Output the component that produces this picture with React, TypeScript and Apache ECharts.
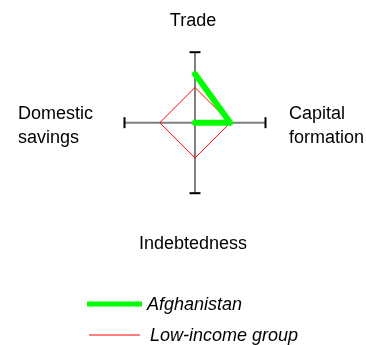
import React, { useEffect, useRef } from "react";
import * as echarts from "echarts";

const categories = ["Trade", "Capital formation", "Indebtedness", "Domestic savings"];
const afghanistan: (number | null)[] = [0.69, 0.5, 0, null];
const lowIncome = [0.5, 0.5, 0.5, 0.5];
const axisMax = 1;

const FONT = "Liberation Sans, Arial, sans-serif";

export default function App() {
  const ref = useRef<HTMLDivElement>(null);
  useEffect(() => {
    if (!ref.current) return;
    const chart = echarts.init(ref.current, undefined, { renderer: "svg" });
    const step = 360 / categories.length;
    const afgData: [number, number][] = [];
    afghanistan.forEach((v, i) => {
      if (v !== null) afgData.push([v, i * step]);
    });
    const lowData: [number, number][] = lowIncome.map((v, i) => [v, i * step]);
    lowData.push([lowIncome[0], 360]);
    const capData = categories.map((_, i) => [axisMax, i * step]);

    const legendText = { fontFamily: FONT, fontSize: 18, fontStyle: "italic", color: "#000" };

    chart.setOption({
      animation: false,
      polar: { center: [195, 122.7], radius: 70.5 },
      angleAxis: {
        type: "value",
        min: 0,
        max: 360,
        interval: 90,
        startAngle: 90,
        clockwise: true,
        axisLine: { show: false },
        axisTick: { show: false },
        axisLabel: { show: false },
        splitLine: { show: true, lineStyle: { color: "#808080", width: 2 } },
      },
      radiusAxis: {
        type: "value",
        min: 0,
        max: axisMax,
        axisLine: { show: false },
        axisTick: { show: false },
        axisLabel: { show: false },
        splitLine: { show: false },
      },
      legend: [
        {
          left: 87,
          top: 295,
          padding: 0,
          itemWidth: 55,
          itemHeight: 5,
          icon: "rect",
          data: ["Afghanistan"],
          textStyle: legendText,
        },
        {
          left: 89,
          top: 326,
          padding: 0,
          itemWidth: 51,
          itemHeight: 1,
          icon: "rect",
          data: ["Low-income group"],
          formatter: (name: string) => " " + name,
          textStyle: legendText,
        },
      ],
      graphic: [
        { type: "text", x: 193, y: 20, style: { text: "Trade", font: `18px ${FONT}`, fill: "#000", align: "center", verticalAlign: "middle" } },
        { type: "text", x: 193, y: 243, style: { text: "Indebtedness", font: `18px ${FONT}`, fill: "#000", align: "center", verticalAlign: "middle" } },
        { type: "text", x: 18, y: 125, style: { text: "Domestic\nsavings", font: `18px ${FONT}`, lineHeight: 24, fill: "#000", align: "left", verticalAlign: "middle" } },
        { type: "text", x: 289, y: 125, style: { text: "Capital\nformation", font: `18px ${FONT}`, lineHeight: 24, fill: "#000", align: "left", verticalAlign: "middle" } },
      ],
      series: [
        {
          type: "custom",
          coordinateSystem: "polar",
          silent: true,
          data: capData,
          renderItem: (params: any, api: any) => {
            const r = api.value(0);
            const a = api.value(1);
            const p = api.coord([r, a]);
            const rad = (a * Math.PI) / 180;
            const px = Math.cos(rad) * 5.5;
            const py = Math.sin(rad) * 5.5;
            return {
              type: "line",
              shape: { x1: p[0] - px, y1: p[1] - py, x2: p[0] + px, y2: p[1] + py },
              style: { stroke: "#000", lineWidth: 2 },
            };
          },
        },
        {
          name: "Low-income group",
          type: "line",
          coordinateSystem: "polar",
          data: lowData,
          symbol: "none",
          lineStyle: { color: "#ff0000", width: 1 },
          itemStyle: { color: "#ff0000" },
          z: 3,
        },
        {
          name: "Afghanistan",
          type: "line",
          coordinateSystem: "polar",
          data: afgData,
          symbol: "none",
          lineStyle: { color: "#00ff00", width: 6, cap: "round", join: "round" },
          itemStyle: { color: "#00ff00" },
          z: 4,
        },
      ],
    });
    return () => chart.dispose();
  }, []);
  return <div ref={ref} style={{ position: "fixed", left: 0, top: 0, width: 366, height: 345 }} />;
}
